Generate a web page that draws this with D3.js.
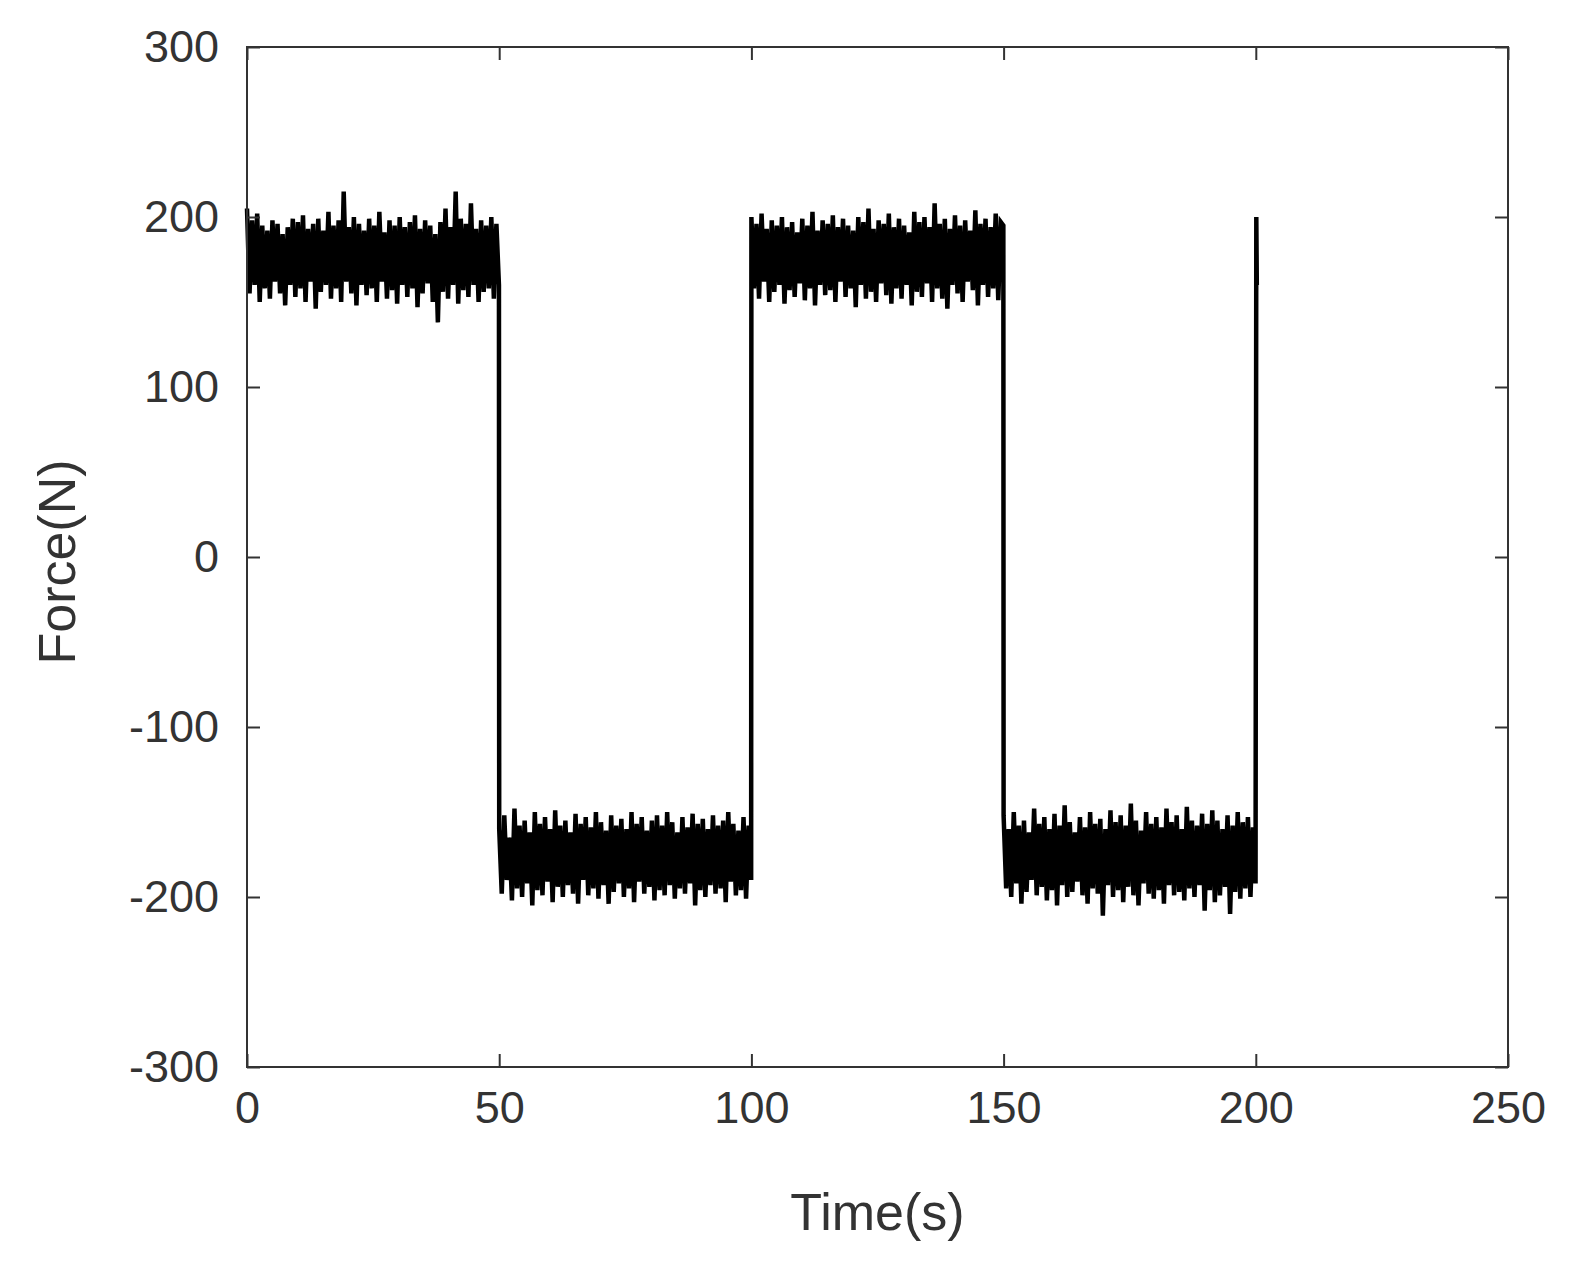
<!DOCTYPE html>
<html>
<head>
<meta charset="utf-8">
<script src="https://cdn.jsdelivr.net/npm/d3@7"></script>
<style>
  body { margin: 0; background: #fff; }
  text { font-family: Arial, "Liberation Sans", sans-serif; fill: #333; }
</style>
</head>
<body>
<svg id="chart" width="1583" height="1273"></svg>
<script>
// force samples, one every 0.5 s per segment
const seg1 = [205,155,198,160,202,150,195,158,192,152,198,162,196,155,190,148,194,160,199,153,
  197,158,201,150,193,162,196,146,199,156,192,160,203,152,195,158,198,150,215,162,
  194,155,200,148,196,160,192,154,199,158,195,150,203,162,191,152,198,157,195,149,
  200,160,194,153,197,158,201,147,193,155,198,161,195,150,190,138,197,156,205,152,
  194,160,215,149,199,157,196,153,208,160,193,150,198,156,195,158,200,152,196,160];
const seg2 = [-160,-198,-152,-190,-165,-202,-148,-195,-158,-200,-155,-192,-162,-205,-150,-196,-157,-199,-153,-191,
  -160,-203,-149,-194,-158,-200,-155,-193,-162,-198,-151,-204,-157,-190,-153,-199,-159,-195,-150,-201,
  -156,-193,-161,-204,-152,-197,-158,-192,-154,-200,-160,-195,-150,-203,-157,-191,-153,-198,-161,-194,
  -155,-202,-152,-196,-158,-199,-150,-193,-156,-201,-162,-195,-153,-198,-159,-192,-151,-205,-157,-196,
  -154,-200,-160,-193,-152,-198,-158,-195,-155,-203,-150,-191,-157,-199,-161,-196,-153,-201,-158,-190];
const seg3 = [200,158,196,152,202,162,193,150,198,156,195,160,200,149,194,157,197,153,191,161,
  199,151,195,158,203,148,192,160,198,154,196,157,201,150,194,162,199,153,195,158,
  192,147,200,160,197,152,205,156,193,150,198,161,196,154,202,149,194,158,199,152,
  195,160,191,148,203,156,197,153,200,161,194,150,208,158,196,152,199,146,193,160,
  201,155,195,150,198,162,192,157,204,148,196,160,199,153,194,158,202,151,197,195];
const seg4 = [-152,-195,-160,-200,-150,-192,-158,-204,-155,-197,-162,-190,-148,-199,-157,-194,-153,-202,-160,-196,
  -151,-205,-158,-193,-146,-200,-156,-197,-162,-191,-153,-199,-159,-204,-150,-195,-157,-198,-154,-211,
  -160,-193,-149,-200,-156,-196,-152,-203,-158,-194,-145,-199,-155,-205,-161,-192,-150,-198,-157,-201,
  -153,-196,-159,-204,-148,-193,-156,-199,-152,-197,-160,-202,-147,-195,-155,-200,-158,-193,-151,-208,
  -157,-196,-149,-203,-155,-199,-160,-194,-152,-210,-158,-197,-150,-201,-156,-195,-153,-200,-159,-192];
const segStarts = [0, 50, 100, 150];
const tail = [[200.1, 200], [200.2, 160]];
const xTicks = [0, 50, 100, 150, 200, 250];
const yTicks = [-300, -200, -100, 0, 100, 200, 300];

const data = [];
[seg1, seg2, seg3, seg4].forEach((s, k) => {
  s.forEach((v, i) => data.push([segStarts[k] + i * 0.5 * 99.9 / 49.5 / 2, v]));
});
tail.forEach(p => data.push(p));

const svg = d3.select("#chart");
const L = 247, R = 1508, T = 47, B = 1067;
const x = d3.scaleLinear().domain([0, 250]).range([L, R]);
const y = d3.scaleLinear().domain([-300, 300]).range([B, T]);

svg.append("path")
  .datum(data)
  .attr("fill", "none")
  .attr("stroke", "#000")
  .attr("stroke-width", 4.5)
  .attr("d", d3.line().x(d => x(d[0])).y(d => y(d[1])));

const fmt = d => String(d);
function styleAxis(g) {
  g.select(".domain").remove();
  g.selectAll("line").attr("stroke", "#333").attr("stroke-width", 2);
  g.selectAll("text").attr("font-size", 45).style("fill", "#333");
}
svg.append("g").attr("transform", `translate(0,${B})`)
  .call(d3.axisBottom(x).tickValues(xTicks).tickSize(-13).tickPadding(24).tickFormat(fmt)).call(styleAxis);
svg.append("g").attr("transform", `translate(0,${T})`)
  .call(d3.axisTop(x).tickValues(xTicks).tickSize(-13).tickFormat("")).call(styleAxis);
svg.append("g").attr("transform", `translate(${L},0)`)
  .call(d3.axisLeft(y).tickValues(yTicks).tickSize(-13).tickPadding(28).tickFormat(fmt)).call(styleAxis);
svg.append("g").attr("transform", `translate(${R},0)`)
  .call(d3.axisRight(y).tickValues(yTicks).tickSize(-13).tickFormat("")).call(styleAxis);

svg.append("rect").attr("x", L).attr("y", T).attr("width", R - L).attr("height", B - T)
  .attr("fill", "none").attr("stroke", "#333").attr("stroke-width", 2);

svg.append("text").attr("x", (L + R) / 2).attr("y", 1230).attr("text-anchor", "middle")
  .attr("font-size", 52).text("Time(s)");
svg.append("text").attr("transform", `translate(75,${(T + B) / 2 + 5}) rotate(-90)`)
  .attr("text-anchor", "middle").attr("font-size", 52).text("Force(N)");
</script>
</body>
</html>
